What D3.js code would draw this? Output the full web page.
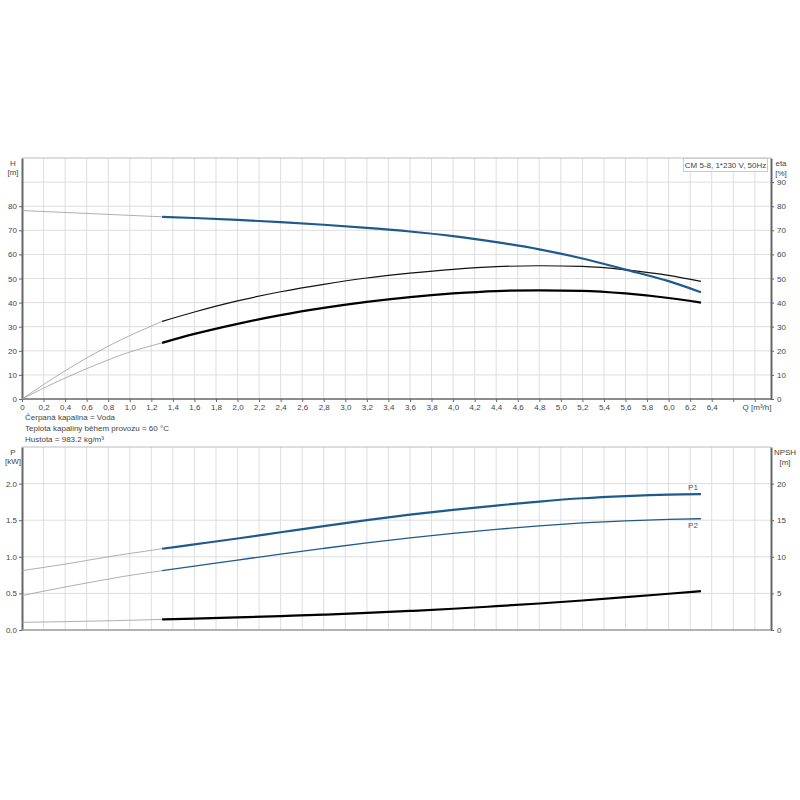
<!DOCTYPE html>
<html>
<head>
<meta charset="utf-8">
<script src="https://cdn.jsdelivr.net/npm/d3@7"></script>
<style>
  body { margin: 0; background: #fff; }
  svg { display: block; font-family: "Liberation Sans", Arial, sans-serif; }
</style>
</head>
<body>
<svg id="chart" width="800" height="800"></svg>
<script>
// ---- Data ----
const qLow  = [0, 0.2, 0.4, 0.6, 0.8, 1.0, 1.3];
const qHigh = [1.3, 1.6, 2.0, 2.4, 2.8, 3.2, 3.6, 4.0, 4.4, 4.8, 5.2, 5.6, 6.0, 6.3];

const hLow   = [78.2, 77.8, 77.4, 77.0, 76.6, 76.2, 75.6];
const hHigh  = [75.6, 75.1, 74.3, 73.4, 72.3, 71.0, 69.5, 67.6, 65.1, 62.1, 58.3, 53.7, 48.9, 44.3];

const etaLow  = [0, 6.0, 11.7, 17.0, 21.9, 26.3, 32.2];
const etaHigh = [32.2, 36.1, 40.7, 44.5, 47.6, 50.2, 52.2, 53.8, 54.9, 55.3, 55.0, 53.6, 51.3, 48.8];

const etaTotLow  = [0, 4.5, 8.7, 12.6, 16.2, 19.5, 23.3];
const etaTotHigh = [23.3, 27.0, 31.2, 34.8, 37.8, 40.3, 42.3, 43.8, 44.8, 45.1, 44.9, 43.8, 41.9, 40.0];

const p1Low  = [0.81, 0.855, 0.90, 0.95, 1.0, 1.045, 1.11];
const p1High = [1.11, 1.17, 1.25, 1.335, 1.42, 1.50, 1.575, 1.64, 1.70, 1.755, 1.80, 1.83, 1.85, 1.855];

const p2Low  = [0.47, 0.53, 0.587, 0.642, 0.695, 0.745, 0.81];
const p2High = [0.81, 0.872, 0.955, 1.037, 1.115, 1.19, 1.258, 1.32, 1.375, 1.423, 1.463, 1.492, 1.512, 1.52];

const npshLow  = [1.05, 1.09, 1.14, 1.2, 1.26, 1.33, 1.45];
const npshHigh = [1.45, 1.56, 1.72, 1.9, 2.1, 2.33, 2.6, 2.9, 3.25, 3.62, 4.03, 4.48, 4.95, 5.3];

const hTicks    = [0, 10, 20, 30, 40, 50, 60, 70, 80];
const etaTicks  = [0, 10, 20, 30, 40, 50, 60, 70, 80, 90];
const hGrid     = [10, 20, 30, 40, 50, 60, 70, 80, 90];
const pTicks    = [0, 0.5, 1.0, 1.5, 2.0];
const npshTicks = [0, 5, 10, 15, 20];
const qTicks    = d3.range(0, 35).map(i => +(i * 0.2).toFixed(1));
const qLabelMax = 6.4;

const titleText = "CM 5-8, 1*230 V, 50Hz";
const infoLines = ["Čerpaná kapalina = Voda", "Teplota kapaliny během provozu = 60 °C", "Hustota = 983.2 kg/m³"];

// ---- Layout ----
const svg = d3.select("#chart");
const L = 22, R = 771;
const top1 = 158, bot1 = 399;
const top2 = 447, bot2 = 630;
const blue = "#1f5a8c";
const gridCol = "#dedede";
const axisCol = "#666";
const txtCol = "#444";

const x = d3.scaleLinear().domain([0, 6.95]).range([L, R]);
const yH = d3.scaleLinear().domain([0, 100]).range([bot1, top1]);
const yEta = d3.scaleLinear().domain([0, 100]).range([bot1, top1]);
const yP = d3.scaleLinear().domain([0, 2.5]).range([bot2, top2]);
const yN = d3.scaleLinear().domain([0, 25]).range([bot2, top2]);

// gridlines
const grid = svg.append("g");
qTicks.filter(q => q > 0).forEach(q => {
  grid.append("line").attr("x1", x(q)).attr("x2", x(q)).attr("y1", top1).attr("y2", bot1)
    .attr("stroke", gridCol).attr("stroke-width", 1);
  grid.append("line").attr("x1", x(q)).attr("x2", x(q)).attr("y1", top2).attr("y2", bot2)
    .attr("stroke", gridCol).attr("stroke-width", 1);
});
hGrid.forEach(v => {
  grid.append("line").attr("x1", L).attr("x2", R).attr("y1", yH(v)).attr("y2", yH(v))
    .attr("stroke", gridCol).attr("stroke-width", 1);
});
[0.5, 1.0, 1.5, 2.0].forEach(v => {
  grid.append("line").attr("x1", L).attr("x2", R).attr("y1", yP(v)).attr("y2", yP(v))
    .attr("stroke", gridCol).attr("stroke-width", 1);
});
// top borders
svg.append("line").attr("x1", L).attr("x2", R).attr("y1", top1).attr("y2", top1).attr("stroke", "#bbb");
svg.append("line").attr("x1", L).attr("x2", R).attr("y1", top2).attr("y2", top2).attr("stroke", "#bbb");

function styleAxis(g, width) {
  g.selectAll(".domain").attr("stroke", axisCol).attr("stroke-width", width);
  g.selectAll(".tick line").attr("stroke", axisCol);
  g.selectAll(".tick text").attr("fill", txtCol).style("font-size", "8px").style("font-family", "'Liberation Sans', Arial, sans-serif");
}

// top axes
const axH = svg.append("g").attr("transform", `translate(${L},0)`)
  .call(d3.axisLeft(yH).tickValues(hTicks).tickSize(3).tickSizeOuter(0).tickPadding(2).tickFormat(d3.format("d")));
styleAxis(axH, 2);
const axEta = svg.append("g").attr("transform", `translate(${R},0)`)
  .call(d3.axisRight(yEta).tickValues(etaTicks).tickSize(3).tickSizeOuter(0).tickPadding(3).tickFormat(d3.format("d")));
styleAxis(axEta, 2);
const fmtQ = q => q === 0 ? "0" : (q > qLabelMax + 1e-6 ? "" : q.toFixed(1).replace(".", ","));
const axQ = svg.append("g").attr("transform", `translate(0,${bot1})`)
  .call(d3.axisBottom(x).tickValues(qTicks).tickSize(3).tickSizeOuter(0).tickPadding(2).tickFormat(fmtQ));
styleAxis(axQ, 1.5);
axQ.select(".domain").attr("d", `M${L},0H${R}`);

// bottom axes
const axP = svg.append("g").attr("transform", `translate(${L},0)`)
  .call(d3.axisLeft(yP).tickValues(pTicks).tickSize(3).tickSizeOuter(0).tickPadding(2).tickFormat(d3.format(".1f")));
styleAxis(axP, 2);
const axN = svg.append("g").attr("transform", `translate(${R},0)`)
  .call(d3.axisRight(yN).tickValues(npshTicks).tickSize(3).tickSizeOuter(0).tickPadding(3).tickFormat(d3.format("d")));
styleAxis(axN, 2);
svg.append("line").attr("x1", L).attr("x2", R).attr("y1", bot2).attr("y2", bot2)
  .attr("stroke", "#999").attr("stroke-width", 1.5);

// axis titles
const t = (xx, yy, s, anchor) => svg.append("text").attr("x", xx).attr("y", yy).text(s)
  .attr("font-size", 8).attr("fill", txtCol).attr("text-anchor", anchor || "middle");
t(13, 166, "H"); t(13, 175, "[m]");
t(781, 166, "eta"); t(781, 176, "[%]");
t(757, 410, "Q [m³/h]");
t(13, 455, "P"); t(13, 464, "[kW]");
t(785, 455, "NPSH"); t(785, 465, "[m]");

// title box
svg.append("rect").attr("x", 683.5).attr("y", 158.5).attr("width", 84).attr("height", 13)
  .attr("fill", "#fff").attr("stroke", "#ccc");
t(725.5, 168, titleText);

infoLines.forEach((s, i) => t(25, 420 + i * 11, s, "start"));

// curves
const line = (ys, curve) => d3.line().x(d => x(d[0])).y(d => ys(d[1])).curve(curve);
function draw(qs, vs, ys, color, width, curve) {
  svg.append("path").datum(qs.map((q, i) => [q, vs[i]]))
    .attr("d", line(ys, curve || d3.curveMonotoneX)).attr("fill", "none").attr("stroke", color)
    .attr("stroke-width", width).attr("stroke-linecap", "butt");
}
const ext = "#9a9a9a";
draw(qLow, hLow, yH, ext, 0.8, d3.curveNatural);
draw(qLow, etaLow, yEta, ext, 0.8, d3.curveNatural);
draw(qLow, etaTotLow, yEta, ext, 0.8, d3.curveNatural);
draw(qLow, p1Low, yP, ext, 0.8, d3.curveNatural);
draw(qLow, p2Low, yP, ext, 0.8, d3.curveNatural);
draw(qLow, npshLow, yN, ext, 0.8, d3.curveNatural);

draw(qHigh, etaHigh, yEta, "#111", 1.2);
draw(qHigh, etaTotHigh, yEta, "#000", 2.2);
draw(qHigh, hHigh, yH, blue, 2.2);
draw(qHigh, p1High, yP, blue, 2.2);
draw(qHigh, p2High, yP, blue, 1.3);
draw(qHigh, npshHigh, yN, "#000", 2.2);

// P1 / P2 labels
const lastQ = qHigh[qHigh.length - 1];
svg.append("text").attr("x", x(lastQ) - 8).attr("y", yP(p1High[p1High.length - 1]) - 4)
  .text("P1").attr("font-size", 8).attr("fill", blue).attr("text-anchor", "middle");
svg.append("text").attr("x", x(lastQ) - 8).attr("y", yP(p2High[p2High.length - 1]) + 9)
  .text("P2").attr("font-size", 8).attr("fill", blue).attr("text-anchor", "middle");
</script>
</body>
</html>
